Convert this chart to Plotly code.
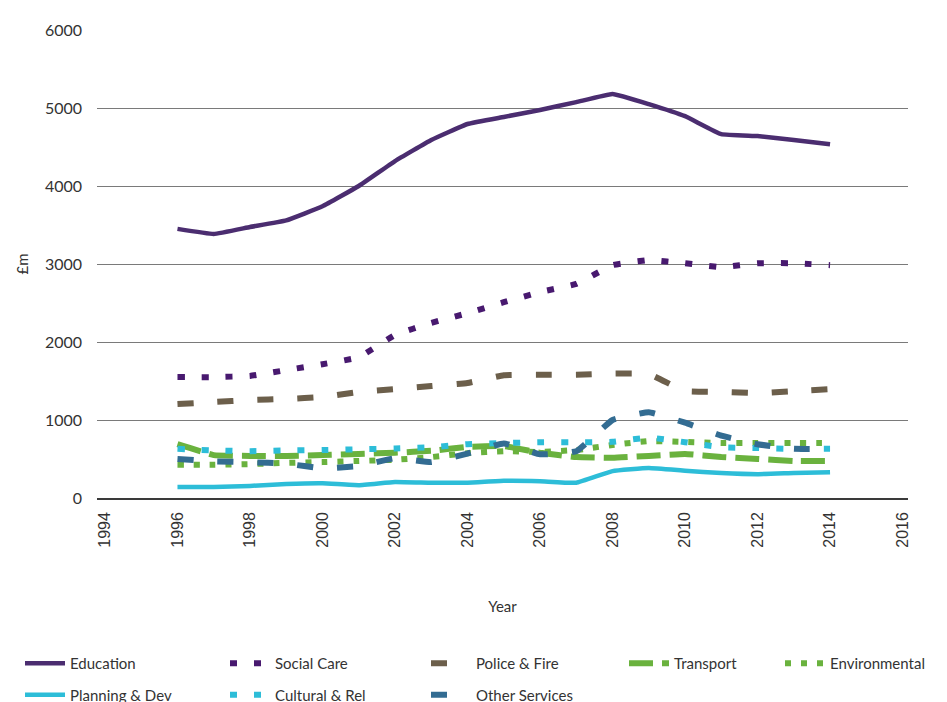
import plotly.graph_objects as go

years = list(range(1996, 2015))

education = [3450, 3385, 3475, 3560, 3740, 4000, 4320, 4590, 4795, 4885, 4975, 5075, 5180, 5050, 4895, 4665, 4640, 4590, 4535]
social_care = [1550, 1550, 1565, 1640, 1715, 1805, 2090, 2245, 2370, 2510, 2640, 2745, 2985, 3050, 3010, 2960, 3010, 3010, 2985]
police_fire = [1205, 1230, 1255, 1270, 1295, 1360, 1395, 1435, 1475, 1575, 1580, 1580, 1595, 1590, 1370, 1360, 1345, 1370, 1395]
transport = [690, 550, 540, 540, 550, 565, 580, 605, 655, 665, 580, 525, 515, 540, 565, 525, 500, 475, 475]
environmental = [425, 425, 435, 450, 460, 475, 490, 525, 575, 600, 590, 615, 680, 730, 718, 705, 705, 705, 705]
planning_dev = [140, 140, 155, 180, 190, 165, 205, 195, 195, 220, 215, 195, 345, 385, 350, 320, 305, 320, 330]
cultural_rel = [630, 610, 600, 610, 615, 625, 635, 650, 690, 705, 715, 715, 720, 775, 715, 650, 640, 630, 630]
other_services = [500, 470, 460, 440, 380, 410, 510, 460, 570, 700, 560, 600, 1000, 1100, 965, 800, 690, 630, 630]

x_ticks = list(range(1994, 2017, 2))
y_ticks = [0, 1000, 2000, 3000, 4000, 5000, 6000]

series = [
    ("Education", education, "#4B2D70", "solid", 4.5, "legend", "g1"),
    ("Social Care", social_care, "#48196F", "7px,17px", 6, "legend2", "g2"),
    ("Police & Fire", police_fire, "#6C5F4B", "16px,24px", 6, "legend3", "g3"),
    ("Transport", transport, "#6AB23E", "24px,9px", 6, "legend4", "g4"),
    ("Environmental", environmental, "#6AB23E", "6px,10px", 6, "legend5", "g5"),
    ("Planning & Dev", planning_dev, "#2DBDD8", "solid", 4.5, "legend", "g6"),
    ("Cultural & Rel", cultural_rel, "#2DBDD8", "7px,17px", 6, "legend2", "g7"),
    ("Other Services", other_services, "#336C92", "16px,24px", 6, "legend3", "g8"),
]

fig = go.Figure()
for name, vals, color, dash, width, leg, grp in series:
    fig.add_trace(go.Scatter(
        x=years, y=vals, mode="lines", name=name,
        line=dict(color=color, dash=dash, width=width, shape="spline", smoothing=0.3),
        legend=leg, legendgroup=grp,
    ))

W, H = 947, 702
ml, mr, mt, mb = 89, 47, 22, 212
pw, ph = W - ml - mr, H - mt - mb

def px_x(p):
    return (p - ml) / pw

def px_y(p):
    return (H - mb - p) / ph

legend_font = dict(family="Lato, Open Sans, sans-serif", size=15, color="#333333")
common = dict(orientation="v", xanchor="left", yanchor="top", font=legend_font,
              bgcolor="rgba(0,0,0,0)", tracegroupgap=9, itemwidth=40)
legend_x = [12, 217, 418, 616, 772]
layout_legends = {}
for i, lx in enumerate(legend_x):
    key = "legend" if i == 0 else f"legend{i+1}"
    layout_legends[key] = dict(common, x=px_x(lx), y=px_y(639))

fig.update_layout(
    width=W, height=H,
    margin=dict(l=ml, r=mr, t=mt, b=mb, autoexpand=False),
    paper_bgcolor="white", plot_bgcolor="white",
    showlegend=True,
    **layout_legends,
)

fig.update_xaxes(
    range=[1993.78, 2016.15], automargin=False,
    tickmode="array", tickvals=x_ticks, ticktext=[str(v) for v in x_ticks],
    tickangle=-90,
    tickfont=dict(family="Liberation Sans, Arial, sans-serif", size=16, color="#333333"),
    showgrid=False, zeroline=False,
    showline=True, linecolor="#3a3a3a", linewidth=1.5,
    ticks="", ticklabelstandoff=6,
    title=dict(text="Year", font=dict(family="Lato, Open Sans, sans-serif", size=15, color="#333333"), standoff=55),
)
fig.update_yaxes(
    range=[0, 6000], automargin=False,
    tickmode="array", tickvals=y_ticks, ticktext=[str(v) for v in y_ticks],
    tickfont=dict(family="Lato, Open Sans, sans-serif", size=16, color="#333333"),
    showgrid=True, gridcolor="#7a7a7a", gridwidth=1.3,
    zeroline=True, zerolinecolor="#3a3a3a", zerolinewidth=1.5,
    showline=False, ticks="", ticklabelstandoff=14,
    title=dict(text="£m", font=dict(family="Lato, Open Sans, sans-serif", size=15, color="#333333"), standoff=12),
)

fig.write_html("out.html")
